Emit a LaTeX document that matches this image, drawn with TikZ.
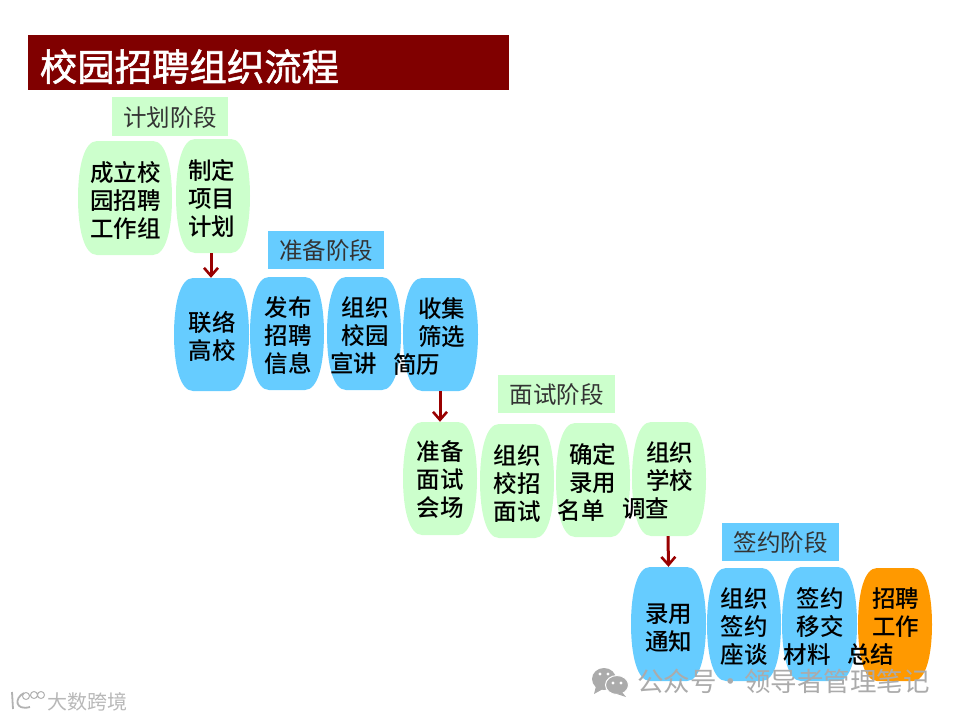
\documentclass[tikz,border=0pt]{standalone}
\usepackage{fontspec}
\setmainfont{Noto Sans CJK SC}[BoldFont={Noto Sans CJK SC Medium}]
\newfontfamily\titlefont{Noto Sans CJK SC}
\usetikzlibrary{arrows.meta}
\definecolor{titlered}{HTML}{800000}
\definecolor{phgreen}{HTML}{CCFFCC}
\definecolor{phblue}{HTML}{66CCFF}
\definecolor{phorange}{HTML}{FF9900}
\definecolor{arrowred}{HTML}{990000}
\definecolor{wm}{HTML}{ABABAB}
\tikzset{
  x=1pt,y=-1pt,
  bodytext/.style={font=\fontsize{23.5}{28}\selectfont\bfseries,align=center,inner sep=0pt,text=black},
  phase/.style={font=\fontsize{23.5}{28}\selectfont,text=black!80,inner sep=0pt},
  flowarrow/.style={draw=arrowred,line width=3pt,-{Straight Barb[length=8pt,width=14pt,line width=2.6pt]}},
}
\newcommand{\gap}[1]{\rule{#1}{0pt}}
% name, x1, y1, x2, y2, colour, text x, text y, text
\newcommand{\barrelshape}[9]{%
  \fill[#6] (#2+19,#3) -- (#4-19,#3)
    .. controls (#4-6,#3) and (#4,#3+26) .. (#4,{(#3+#5)/2})
    .. controls (#4,#5-26) and (#4-6,#5) .. (#4-19,#5)
    -- (#2+19,#5)
    .. controls (#2+6,#5) and (#2,#5-26) .. (#2,{(#3+#5)/2})
    .. controls (#2,#3+26) and (#2+6,#3) .. (#2+19,#3) -- cycle;
  \path ({(#2+#4)/2},{(#3+#5)/2}) node[inner sep=0pt,minimum width={(#4-#2)*1pt},minimum height={(#5-#3)*1pt}] (#1) {};
  \node[bodytext] (#1t) at (#7,#8) {#9};
}
\newcommand{\phasebox}[7]{%
  \fill[#6] (#2,#3) rectangle (#4,#5);
  \node[phase] (#1) at ({(#2+#4)/2},{(#3+#5)/2+1}) {#7};
}
\begin{document}
\begin{tikzpicture}
\useasboundingbox (0,0) rectangle (960,720);
% title
\fill[titlered] (28,35) rectangle (509,90);
\node[font=\titlefont\fontsize{37.4}{40}\selectfont,text=white,inner sep=0pt] (title) at (189.5,66.5) {\titlefont\addfontfeature{FakeBold=1.5}校园招聘组织流程};
% phase labels
\phasebox{p1}{112}{97}{228}{136}{phgreen}{计划阶段}
\phasebox{p2}{268}{231}{384}{269}{phblue}{准备阶段}
\phasebox{p3}{498}{375}{615}{413}{phgreen}{面试阶段}
\phasebox{p4}{722}{523}{839}{561}{phblue}{签约阶段}
% stage 1
\barrelshape{a1}{78}{141}{172}{255}{phgreen}{125.5}{200}{成立校\\园招聘\\工作组}
\barrelshape{a2}{176}{139}{250}{253}{phgreen}{211.5}{198}{制定\\项目\\计划}
% stage 2
\barrelshape{b1}{174}{278}{249}{391}{phblue}{212}{336.5}{联络\\高校}
\barrelshape{b2}{250}{277}{324}{390}{phblue}{288}{336}{发布\\招聘\\信息}
\barrelshape{b3}{327}{277}{401}{390}{phblue}{359.5}{336}{\gap{11.5pt}组织\\\gap{11.5pt}校园\\宣讲\gap{11.5pt}}
\barrelshape{b4}{403}{278}{478}{391}{phblue}{429}{336.5}{\gap{25pt}收集\\\gap{25pt}筛选\\简历\gap{25pt}}
% stage 3
\barrelshape{c1}{403}{422}{477}{535}{phgreen}{440}{480}{准备\\面试\\会场}
\barrelshape{c2}{480}{424}{554}{538}{phgreen}{517}{484}{组织\\校招\\面试}
\barrelshape{c3}{556}{423}{630}{537}{phgreen}{587}{482}{\gap{11.5pt}确定\\\gap{11.5pt}录用\\名单\gap{11.5pt}}
\barrelshape{c4}{632}{422}{706}{536}{phgreen}{657.7}{481}{\gap{24pt}组织\\\gap{24pt}学校\\调查\gap{24pt}}
% stage 4
\barrelshape{d1}{631}{567}{706}{681}{phblue}{668.5}{628}{录用\\通知}
\barrelshape{d2}{707}{568}{781}{681}{phblue}{744}{627}{组织\\签约\\座谈}
\barrelshape{d3}{782}{567}{857}{681}{phblue}{813.5}{626}{\gap{13pt}签约\\\gap{13pt}移交\\材料\gap{13pt}}
\barrelshape{d4}{858}{568}{932}{681}{phorange}{883}{627}{\gap{25pt}招聘\\\gap{25pt}工作\\总结\gap{25pt}}
% arrows
\draw[flowarrow] ([xshift=-2pt]a2.south) -- ([xshift=-0.5pt]b1.north);
\draw[flowarrow] ([xshift=-0.5pt]b4.south) -- ([xshift=0pt]c1.north);
\draw[flowarrow] ([xshift=-1pt]c4.south) -- ([xshift=0pt]d1.north);
% watermarks
\fill[wm] (604,679) ellipse [x radius=12,y radius=11];
\fill[wm] (596,686) -- (594,694) -- (603,689) -- cycle;
\fill[wm,draw=white,line width=1pt] (617,685) ellipse [x radius=11.5,y radius=9.5];
\fill[wm] (622,692) -- (626,697) -- (617,694) -- cycle;
\foreach \p in {(600,674),(608,674),(613,683),(621,683)} \fill[white] \p circle (1.6);
\node[font=\fontsize{26.5}{28}\selectfont,text=wm,inner sep=0pt] (wmtext) at (783.5,681) {公众号\makebox[28pt]{·}领导者管理笔记};
\draw[black!30,line width=1.8pt] (12,692) -- (13,709);
\draw[black!30,line width=1.8pt] (24,693) .. controls (14,698) and (15,711) .. (30,707);
\draw[black!30,line width=1pt] (26,696) circle (3.5) (34,695) circle (3.5) (41,695) circle (3.5);
\node[font=\fontsize{20}{22}\selectfont,text=black!28,inner sep=0pt] (wmleft) at (87,702) {大数跨境};
\end{tikzpicture}
\end{document}
